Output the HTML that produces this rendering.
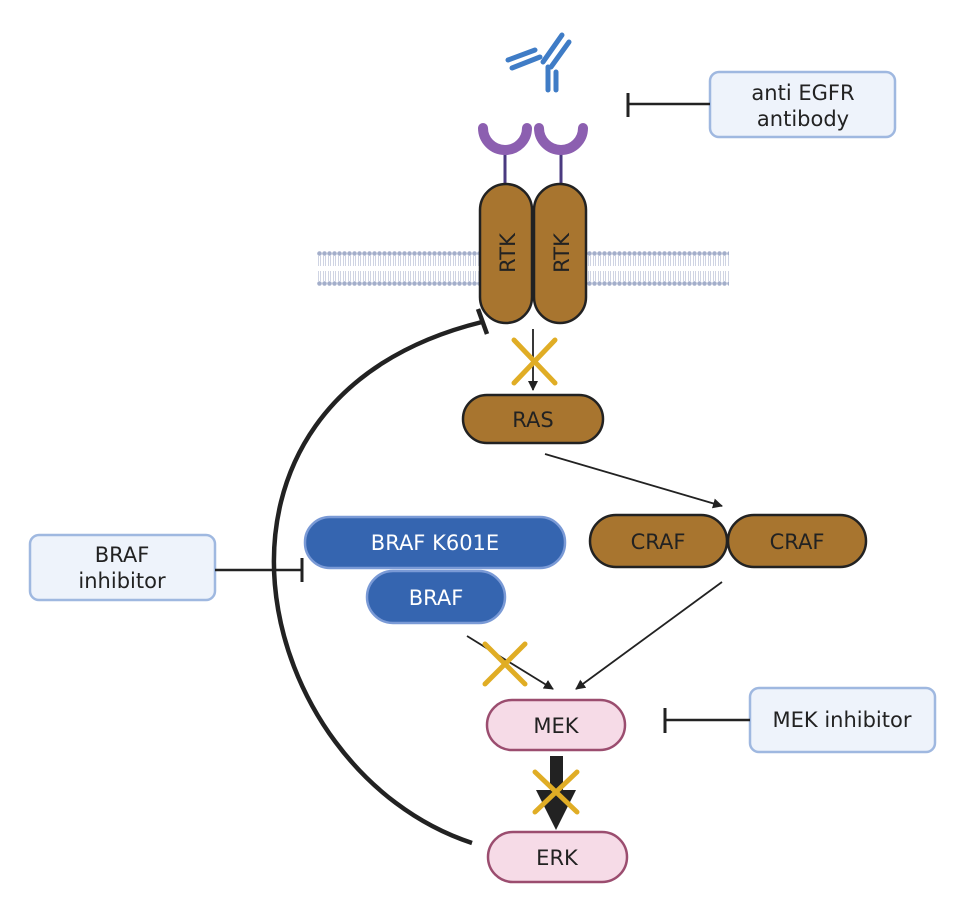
<!DOCTYPE html>
<html><head><meta charset="utf-8"><style>
html,body{margin:0;padding:0;background:#fff;}
svg{display:block;}
text{font-family:"DejaVu Sans","Liberation Sans",sans-serif;}
</style></head><body>
<svg width="968" height="910" viewBox="0 0 968 910" xmlns="http://www.w3.org/2000/svg">
<defs>
<marker id="ah" markerWidth="10" markerHeight="10" refX="9" refY="5" orient="auto" markerUnits="userSpaceOnUse"><path d="M0,0 L10,5 L0,10 Z" fill="#222"/></marker>
<pattern id="mem" x="317" y="251" width="5" height="35" patternUnits="userSpaceOnUse">
<circle cx="2.5" cy="2.5" r="2.3" fill="#a3aeca"/>
<circle cx="2.5" cy="32.5" r="2.3" fill="#a3aeca"/>
<line x1="1.5" y1="5" x2="1.5" y2="15" stroke="#c3cadc" stroke-width="0.8"/>
<line x1="3.5" y1="5" x2="3.5" y2="15" stroke="#c3cadc" stroke-width="0.8"/>
<line x1="1.5" y1="20" x2="1.5" y2="30" stroke="#c3cadc" stroke-width="0.8"/>
<line x1="3.5" y1="20" x2="3.5" y2="30" stroke="#c3cadc" stroke-width="0.8"/>
</pattern>
</defs>
<rect x="0" y="0" width="968" height="910" fill="#fff"/>
<rect x="317" y="251" width="412" height="35" fill="url(#mem)"/>
<!-- antibody -->
<g stroke="#3f7cc6" stroke-width="5" stroke-linecap="round" fill="none">
<line x1="548" y1="67" x2="548" y2="90"/><line x1="556" y1="72" x2="556" y2="90"/>
<line x1="543" y1="62" x2="562" y2="35"/><line x1="551" y1="67" x2="569" y2="42"/>
<line x1="508" y1="60" x2="535" y2="50"/><line x1="512" y1="68" x2="540" y2="57"/>
</g>
<g stroke="#4a3a80" stroke-width="3"><line x1="505" y1="150" x2="505" y2="186"/><line x1="561" y1="150" x2="561" y2="186"/></g>
<g fill="none" stroke="#8c5fb0" stroke-width="10" stroke-linecap="round">
<path d="M483,128 A22,22 0 0 0 527,128"/><path d="M539,128 A22,22 0 0 0 583,128"/>
</g>
<rect x="480" y="184" width="52" height="139" rx="26" fill="#a8752f" stroke="#222" stroke-width="2.5"/>
<rect x="534" y="184" width="52" height="139" rx="26" fill="#a8752f" stroke="#222" stroke-width="2.5"/>
<text transform="translate(515,253) rotate(-90)" font-size="21" text-anchor="middle" fill="#222">RTK</text>
<text transform="translate(569,253) rotate(-90)" font-size="21" text-anchor="middle" fill="#222">RTK</text>
<rect x="710" y="72" width="185" height="65" rx="9" fill="#eef3fb" stroke="#9fb8e0" stroke-width="2.5"/>
<text x="803" y="100" font-size="21" text-anchor="middle" fill="#222">anti EGFR</text>
<text x="803" y="126" font-size="21" text-anchor="middle" fill="#222">antibody</text>
<line x1="628" y1="104" x2="710" y2="104" stroke="#222" stroke-width="2.5"/>
<line x1="628" y1="93" x2="628" y2="117" stroke="#222" stroke-width="3"/>
<line x1="533" y1="329" x2="533" y2="390" stroke="#222" stroke-width="1.8" marker-end="url(#ah)"/>
<g stroke="#e0ad25" stroke-width="5" stroke-linecap="round"><line x1="514" y1="340" x2="555" y2="383"/><line x1="555" y1="340" x2="514" y2="383"/></g>
<rect x="463" y="395" width="140" height="48" rx="24" fill="#a8752f" stroke="#222" stroke-width="2.5"/>
<text x="533" y="427" font-size="21" text-anchor="middle" fill="#222">RAS</text>
<line x1="545" y1="454" x2="722" y2="506" stroke="#222" stroke-width="1.8" marker-end="url(#ah)"/>
<rect x="590" y="515" width="137" height="52" rx="26" fill="#a8752f" stroke="#222" stroke-width="2.5"/>
<rect x="728" y="515" width="138" height="52" rx="26" fill="#a8752f" stroke="#222" stroke-width="2.5"/>
<text x="658" y="549" font-size="21" text-anchor="middle" fill="#222">CRAF</text>
<text x="797" y="549" font-size="21" text-anchor="middle" fill="#222">CRAF</text>
<rect x="305" y="517" width="260" height="51" rx="25" fill="#3565b0" stroke="#7a9ad6" stroke-width="2.5"/>
<text x="435" y="550" font-size="21" text-anchor="middle" fill="#fff">BRAF K601E</text>
<rect x="367" y="571" width="138" height="52" rx="26" fill="#3565b0" stroke="#7a9ad6" stroke-width="2.5"/>
<text x="436" y="605" font-size="21" text-anchor="middle" fill="#fff">BRAF</text>
<rect x="30" y="535" width="185" height="65" rx="9" fill="#eef3fb" stroke="#9fb8e0" stroke-width="2.5"/>
<text x="122" y="562" font-size="21" text-anchor="middle" fill="#222">BRAF</text>
<text x="122" y="588" font-size="21" text-anchor="middle" fill="#222">inhibitor</text>
<line x1="215" y1="570" x2="302" y2="570" stroke="#222" stroke-width="2.5"/>
<line x1="302" y1="558" x2="302" y2="582" stroke="#222" stroke-width="3"/>
<path d="M472,843 C250,770 165,400 482,322" fill="none" stroke="#222" stroke-width="4.5"/>
<line x1="478" y1="309" x2="487" y2="334" stroke="#222" stroke-width="4.5"/>
<line x1="467" y1="636" x2="553" y2="689" stroke="#222" stroke-width="1.8" marker-end="url(#ah)"/>
<g stroke="#e0ad25" stroke-width="5" stroke-linecap="round"><line x1="485" y1="644" x2="525" y2="684"/><line x1="525" y1="644" x2="485" y2="684"/></g>
<line x1="722" y1="582" x2="576" y2="689" stroke="#222" stroke-width="1.8" marker-end="url(#ah)"/>
<rect x="487" y="700" width="138" height="50" rx="25" fill="#f6dbe7" stroke="#9b4d6f" stroke-width="2.5"/>
<text x="556" y="733" font-size="21" text-anchor="middle" fill="#222">MEK</text>
<rect x="750" y="688" width="185" height="64" rx="9" fill="#eef3fb" stroke="#9fb8e0" stroke-width="2.5"/>
<text x="842" y="727" font-size="21" text-anchor="middle" fill="#222">MEK inhibitor</text>
<line x1="665" y1="720" x2="750" y2="720" stroke="#222" stroke-width="2.5"/>
<line x1="665" y1="708" x2="665" y2="733" stroke="#222" stroke-width="3"/>
<rect x="550" y="756" width="13" height="38" fill="#222"/>
<path d="M536,790 L576,790 L556,830 Z" fill="#222"/>
<g stroke="#e0ad25" stroke-width="5" stroke-linecap="round"><line x1="535" y1="772" x2="577" y2="812"/><line x1="577" y1="772" x2="535" y2="812"/></g>
<rect x="488" y="832" width="139" height="50" rx="25" fill="#f6dbe7" stroke="#9b4d6f" stroke-width="2.5"/>
<text x="557" y="865" font-size="21" text-anchor="middle" fill="#222">ERK</text>
</svg>
</body></html>
